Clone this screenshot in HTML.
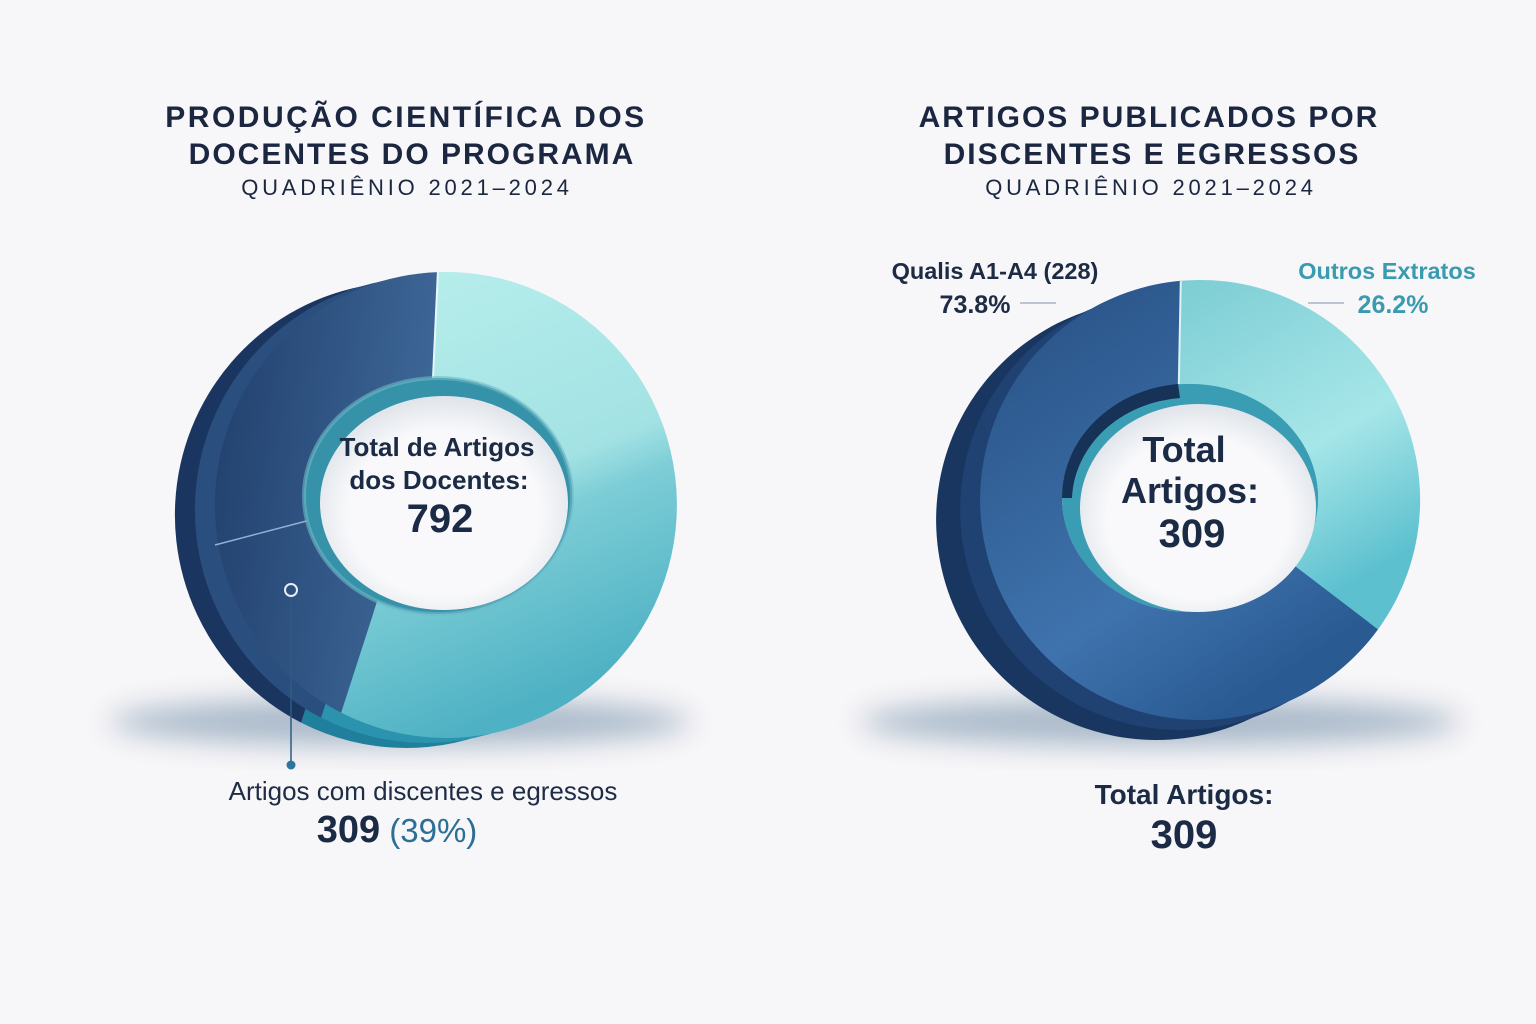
<!DOCTYPE html>
<html><head><meta charset="utf-8"><style>
html,body{margin:0;padding:0;background:#f7f6f8;}
svg{display:block;}
text{font-family:"Liberation Sans",sans-serif;}
</style></head><body>
<svg width="1536" height="1024" viewBox="0 0 1536 1024" xmlns="http://www.w3.org/2000/svg">
<defs>
<linearGradient id="tealL" x1="0" y1="0" x2="0.3" y2="1"><stop offset="0" stop-color="#b8efec"/><stop offset="0.55" stop-color="#a3e2e4"/><stop offset="0.65" stop-color="#7ccdd6"/><stop offset="1" stop-color="#4fb2c4"/></linearGradient>
<linearGradient id="blueL" x1="0" y1="0" x2="1" y2="0.2"><stop offset="0" stop-color="#213f6c"/><stop offset="1" stop-color="#3d6797"/></linearGradient>
<linearGradient id="tealR" x1="0" y1="0" x2="0.4" y2="1"><stop offset="0" stop-color="#7ccdd4"/><stop offset="0.6" stop-color="#a6e6e8"/><stop offset="1" stop-color="#5cc0cf"/></linearGradient>
<linearGradient id="blueR" x1="0" y1="0" x2="0.6" y2="1"><stop offset="0" stop-color="#264f82"/><stop offset="0.7" stop-color="#3f73ad"/><stop offset="1" stop-color="#2a5a92"/></linearGradient>
<radialGradient id="hole" cx="0.5" cy="0.55" r="0.55"><stop offset="0.7" stop-color="#f9f9fb"/><stop offset="1" stop-color="#dfe4ea"/></radialGradient>
<filter id="blur" x="-50%" y="-50%" width="200%" height="200%"><feGaussianBlur stdDeviation="14"/></filter>
</defs>

<ellipse cx="400" cy="722" rx="290" ry="24" fill="#4c6f92" opacity="0.45" filter="url(#blur)"/>
<ellipse cx="1160" cy="722" rx="300" ry="24" fill="#4c6f92" opacity="0.45" filter="url(#blur)"/>

<g transform="translate(-40,10)">
<path d="M437.9,272.1 A231,233 0 1 1 341.1,712.6 L377.2,601.1 A134,118 0 1 0 433.3,378.1 Z" fill="#1f7f9c"/>
<path d="M341.1,712.6 A231,233 0 0 1 437.9,272.1 L433.3,378.1 A134,118 0 0 0 377.2,601.1 Z" fill="#1a3660"/>
</g>
<g transform="translate(-20,5)">
<path d="M437.9,272.1 A231,233 0 1 1 341.1,712.6 L377.2,601.1 A134,118 0 1 0 433.3,378.1 Z" fill="#2b93ad"/>
<path d="M341.1,712.6 A231,233 0 0 1 437.9,272.1 L433.3,378.1 A134,118 0 0 0 377.2,601.1 Z" fill="#2a4e7e"/>
</g>
<path d="M437.9,272.1 A231,233 0 1 1 341.1,712.6 L377.2,601.1 A134,118 0 1 0 433.3,378.1 Z" fill="url(#tealL)"/>
<path d="M341.1,712.6 A231,233 0 0 1 437.9,272.1 L433.3,378.1 A134,118 0 0 0 377.2,601.1 Z" fill="url(#blueL)"/>
<line x1="215" y1="545" x2="318" y2="518" stroke="#8fb2d4" stroke-width="1.5"/>
<line x1="437.9" y1="272" x2="433" y2="378" stroke="#e8f6f8" stroke-width="2"/>
<ellipse cx="438" cy="496" rx="134" ry="118" fill="#3592a8"/>
<ellipse cx="438" cy="496" rx="134" ry="118" fill="none" stroke="#6eb9c8" stroke-width="4" opacity="0.6"/>
<ellipse cx="444" cy="503" rx="124" ry="107" fill="url(#hole)"/>
<text x="437" y="456" font-size="26" font-weight="bold" fill="#1b2a45" text-anchor="middle">Total de Artigos</text>
<text x="439" y="489" font-size="26" font-weight="bold" fill="#1b2a45" text-anchor="middle">dos Docentes:</text>
<text x="440" y="532" font-size="40" font-weight="bold" fill="#1b2a45" text-anchor="middle">792</text>

<circle cx="291" cy="590" r="6" fill="none" stroke="#e6eef6" stroke-width="2"/>
<line x1="291" y1="597" x2="291" y2="762" stroke="#2e5b82" stroke-width="1.5"/>
<circle cx="291" cy="765" r="4.5" fill="#2e74a0"/>
<text x="423" y="800" font-size="26" fill="#1e2c46" text-anchor="middle">Artigos com discentes e egressos</text>
<text x="397" y="842" font-size="38" text-anchor="middle"><tspan fill="#1b2a45" font-weight="bold">309</tspan><tspan fill="#2b6f96" font-size="33"> (39%)</tspan></text>

<text x="406" y="127" font-size="30" font-weight="bold" fill="#1b2640" text-anchor="middle" letter-spacing="2.5">PRODUÇÃO CIENTÍFICA DOS</text>
<text x="412" y="164" font-size="30" font-weight="bold" fill="#1b2640" text-anchor="middle" letter-spacing="2">DOCENTES DO PROGRAMA</text>
<text x="407" y="195" font-size="22" fill="#1b2640" text-anchor="middle" letter-spacing="3.8">QUADRIÊNIO 2021–2024</text>

<g transform="translate(-44,20)">
<path d="M1180.8,280.8 A220,220 0 0 1 1378,629.4 L1293.6,565 A128,114 0 0 0 1178.8,384.4 Z" fill="#2a95ad"/>
<path d="M1378,629.4 A220,220 0 1 1 1180.8,280.8 L1178.8,384.4 A128,114 0 1 0 1293.6,565 Z" fill="#183660"/>
</g>
<g transform="translate(-20,10)">
<path d="M1180.8,280.8 A220,220 0 0 1 1378,629.4 L1293.6,565 A128,114 0 0 0 1178.8,384.4 Z" fill="#3aa9bf"/>
<path d="M1378,629.4 A220,220 0 1 1 1180.8,280.8 L1178.8,384.4 A128,114 0 1 0 1293.6,565 Z" fill="#1f4273"/>
</g>
<path d="M1180.8,280.8 A220,220 0 0 1 1378,629.4 L1293.6,565 A128,114 0 0 0 1178.8,384.4 Z" fill="url(#tealR)"/>
<path d="M1378,629.4 A220,220 0 1 1 1180.8,280.8 L1178.8,384.4 A128,114 0 1 0 1293.6,565 Z" fill="url(#blueR)"/>
<line x1="1180.8" y1="281" x2="1178.8" y2="384" stroke="#dff3f6" stroke-width="2"/>
<ellipse cx="1190" cy="498" rx="128" ry="114" fill="#3a9db3"/>
<path d="M1062,498 A128,114 0 0 1 1178,384 L1180,398 A118,104 0 0 0 1072,498 Z" fill="#163257"/>
<ellipse cx="1198" cy="508" rx="118" ry="104" fill="url(#hole)"/>
<text x="1184" y="462" font-size="36" font-weight="bold" fill="#1b2a45" text-anchor="middle">Total</text>
<text x="1190" y="503" font-size="36" font-weight="bold" fill="#1b2a45" text-anchor="middle">Artigos:</text>
<text x="1192" y="547" font-size="40" font-weight="bold" fill="#1b2a45" text-anchor="middle">309</text>

<text x="995" y="279" font-size="23.5" font-weight="bold" fill="#1d2b45" text-anchor="middle">Qualis A1-A4 (228)</text>
<text x="975" y="313" font-size="25" font-weight="bold" fill="#1d2b45" text-anchor="middle">73.8%</text>
<line x1="1020" y1="303" x2="1056" y2="303" stroke="#9aa6b4" stroke-width="1.2"/>
<text x="1387" y="279" font-size="23.5" font-weight="bold" fill="#3a9bb0" text-anchor="middle">Outros Extratos</text>
<text x="1393" y="313" font-size="25" font-weight="bold" fill="#3a9bb0" text-anchor="middle">26.2%</text>
<line x1="1308" y1="303" x2="1344" y2="303" stroke="#9aa6b4" stroke-width="1.2"/>
<text x="1184" y="804" font-size="28" font-weight="bold" fill="#1b2a45" text-anchor="middle">Total Artigos:</text>
<text x="1184" y="848" font-size="40" font-weight="bold" fill="#1b2a45" text-anchor="middle">309</text>

<text x="1149" y="127" font-size="30" font-weight="bold" fill="#1b2640" text-anchor="middle" letter-spacing="2">ARTIGOS PUBLICADOS POR</text>
<text x="1152" y="164" font-size="30" font-weight="bold" fill="#1b2640" text-anchor="middle" letter-spacing="2">DISCENTES E EGRESSOS</text>
<text x="1151" y="195" font-size="22" fill="#1b2640" text-anchor="middle" letter-spacing="3.8">QUADRIÊNIO 2021–2024</text>
</svg>
</body></html>
